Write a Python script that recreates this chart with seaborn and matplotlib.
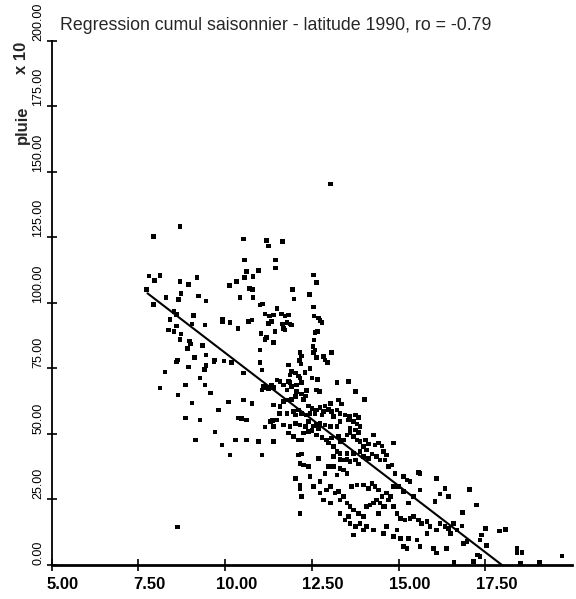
import pandas as pd
import seaborn as sns
import matplotlib
matplotlib.use("Agg")
import matplotlib.pyplot as plt
from matplotlib.transforms import ScaledTranslation

# (latitude, pluie x10), grouped by zone
nord_ouest = [
    (8.70, 129.1), (7.93, 125.3), (10.53, 124.4), (11.20, 123.8), (11.25, 121.8), (11.66, 123.4),
    (10.56, 116.4), (11.46, 116.4), (11.46, 113.4), (7.81, 110.3), (7.96, 108.5), (8.12, 110.6),
    (8.70, 108.1), (8.94, 107.1), (9.19, 109.7), (7.74, 105.2), (8.73, 103.7), (8.65, 101.4),
    (8.30, 102.0), (9.23, 102.7), (9.45, 100.8), (7.93, 99.5), (10.96, 112.3), (10.62, 111.9),
    (10.55, 109.8), (10.80, 110.0), (10.32, 108.1), (10.12, 106.6), (10.70, 105.6), (10.79, 105.2),
    (10.43, 102.0), (10.80, 102.2), (12.55, 110.7), (12.64, 107.7), (11.95, 105.2), (11.99, 101.5),
    (12.43, 103.2), (9.92, 93.8), (9.93, 92.9), (10.14, 92.5), (10.37, 90.3), (8.53, 96.7),
    (8.60, 95.7), (9.08, 95.2), (8.41, 93.8), (8.59, 91.2), (8.36, 89.7), (8.53, 89.1),
    (8.73, 88.2), (9.04, 92.0), (9.42, 91.6), (8.70, 86.1), (8.97, 85.5), (9.01, 84.4),
    (8.92, 82.7), (9.34, 83.7), (9.45, 80.2), (9.11, 79.3), (9.69, 78.2), (9.68, 77.4),
    (9.97, 77.9), (10.19, 77.2), (8.63, 78.2), (8.59, 77.4), (8.94, 75.5), (9.45, 76.1),
    (9.40, 74.7),
]

sud_ouest = [
    (8.27, 73.7), (8.85, 68.7), (9.28, 71.4), (8.64, 64.9), (9.05, 61.8), (9.57, 65.6),
    (9.80, 59.2), (9.28, 55.3), (8.85, 56.1), (10.09, 62.2), (10.37, 56.1), (10.29, 47.7),
    (9.91, 45.8), (10.14, 42.0), (9.71, 50.8), (9.42, 68.7), (8.12, 67.6), (9.14, 47.7),
]

centre_haut = [
    (11.01, 99.2), (11.08, 99.6), (11.49, 98.0), (11.15, 95.8), (11.28, 95.0), (11.39, 95.4),
    (11.63, 95.8), (11.73, 95.0), (11.82, 95.4), (11.34, 92.9), (11.25, 92.2), (11.66, 92.0),
    (11.78, 92.5), (11.87, 92.0), (11.92, 91.6), (11.68, 90.3), (11.73, 89.7), (11.44, 89.1),
    (10.67, 92.9), (10.77, 93.5), (11.03, 88.4), (11.15, 86.1), (11.20, 86.9), (11.39, 84.9),
    (11.01, 82.1), (12.55, 98.4), (12.56, 95.0), (12.69, 94.2), (12.74, 93.3), (12.79, 92.5),
    (12.59, 88.7), (12.66, 89.1), (12.56, 85.9), (12.53, 83.3), (12.59, 82.1), (12.55, 81.1),
    (12.64, 79.3), (12.83, 79.5), (12.88, 78.3), (12.95, 77.2), (13.07, 81.1), (12.16, 81.1),
    (12.21, 79.8), (12.14, 78.0), (12.19, 76.7), (11.01, 77.2), (11.06, 74.4), (10.53, 73.2),
    (11.82, 76.3), (11.92, 73.8), (11.87, 72.5), (12.02, 73.2), (12.11, 72.2), (12.16, 71.3),
    (12.30, 73.4), (12.45, 75.1), (12.50, 71.3), (12.66, 70.9), (11.82, 70.0), (11.87, 69.6),
    (11.49, 70.6), (11.58, 70.0), (11.68, 68.7), (11.92, 68.1), (12.06, 68.7), (12.21, 69.6),
    (11.10, 68.3), (11.18, 67.8), (11.25, 67.1), (11.34, 68.7), (11.39, 67.8), (11.06, 66.8),
    (11.78, 66.8), (12.06, 66.2), (12.35, 66.5), (12.64, 66.8), (12.72, 66.2), (13.22, 69.6),
    (13.56, 70.0), (13.75, 66.2), (14.01, 63.2),
]

centre = [
    (13.27, 63.0), (13.36, 61.5), (13.03, 61.7), (12.88, 60.7), (12.74, 60.2), (12.64, 59.2),
    (12.50, 59.8), (12.40, 60.7), (12.26, 63.2), (12.31, 64.5), (12.21, 65.3), (12.02, 64.3),
    (11.92, 63.2), (11.78, 63.0), (11.68, 62.4), (11.58, 60.4), (11.39, 61.1), (11.56, 57.9),
    (11.78, 57.9), (11.97, 58.5), (12.02, 57.2), (12.11, 59.2), (12.21, 57.9), (12.35, 57.3),
    (12.45, 57.9), (12.59, 57.9), (12.79, 57.3), (12.83, 58.5), (12.98, 59.4), (13.07, 58.5),
    (13.22, 59.2), (13.31, 57.9), (13.12, 56.6), (13.46, 57.3), (13.58, 56.6), (13.75, 57.3),
    (13.84, 56.4), (13.56, 55.4), (13.70, 54.7), (13.80, 53.8), (13.89, 52.8), (13.60, 52.2),
    (13.75, 51.5), (13.84, 50.5), (13.31, 54.7), (13.22, 52.8), (13.03, 52.8), (12.88, 53.4),
    (12.74, 54.1), (12.69, 52.2), (12.55, 53.1), (12.64, 53.8), (12.40, 54.7), (12.31, 52.8),
    (12.16, 53.4), (12.02, 54.1), (11.87, 52.8), (11.68, 53.4), (11.39, 52.8), (11.30, 54.7),
    (11.15, 52.6), (11.49, 55.4), (11.37, 55.1), (10.53, 63.0), (10.77, 61.7), (10.48, 56.0),
    (10.62, 55.4), (10.62, 47.7), (10.96, 47.1), (11.06, 42.0), (11.39, 47.1), (11.82, 50.3),
    (11.97, 49.0), (12.11, 47.7), (12.21, 47.7), (12.26, 50.3), (12.40, 50.9), (12.50, 51.3),
    (12.64, 49.6), (12.79, 48.7), (12.93, 47.7), (13.07, 48.4), (12.98, 46.5), (13.12, 45.2),
    (13.27, 49.0), (13.31, 47.1), (13.41, 47.7), (13.51, 49.6), (13.60, 50.3), (13.70, 49.0),
    (13.80, 47.7), (13.89, 47.1), (14.04, 47.7), (13.99, 45.2), (14.13, 46.2), (14.28, 49.6),
    (14.32, 45.8), (14.42, 46.5), (14.52, 45.4), (14.56, 43.3), (14.66, 42.0), (14.85, 46.5),
    (14.08, 43.9), (13.89, 43.3), (13.70, 42.6), (13.51, 42.6), (13.31, 42.6), (13.22, 43.3),
    (13.12, 41.4), (13.31, 40.3), (13.41, 40.1), (13.51, 40.3), (13.60, 39.4), (13.75, 40.1),
    (13.84, 38.6), (13.99, 41.4), (14.13, 40.7), (14.23, 42.4), (14.37, 41.4), (14.47, 40.1),
    (14.61, 40.1), (14.71, 37.5), (14.81, 38.2), (14.90, 35.0), (15.14, 33.7), (15.24, 32.5),
    (15.33, 31.8), (15.57, 35.3), (15.62, 35.0), (16.10, 33.1),
]

sud_est = [
    (16.34, 29.3), (16.44, 26.1), (16.20, 27.1), (16.05, 24.2), (15.62, 28.6), (15.43, 26.1),
    (15.29, 23.6), (15.14, 28.0), (15.00, 29.9), (14.85, 29.9), (14.76, 26.1), (14.66, 27.4),
    (14.52, 26.1), (14.42, 28.6), (14.32, 29.9), (14.23, 31.2), (14.13, 29.3), (13.99, 30.6),
    (13.80, 30.6), (13.65, 29.9), (13.51, 35.0), (13.41, 36.3), (13.31, 36.9), (13.22, 34.4),
    (13.12, 37.5), (12.98, 37.5), (12.88, 35.0), (12.74, 31.8), (12.69, 40.7), (12.40, 37.5),
    (12.26, 38.2), (12.16, 38.8), (12.11, 42.0), (12.21, 42.4), (12.02, 33.1), (12.16, 30.6),
    (12.16, 29.3), (12.21, 26.1), (12.16, 19.7), (12.45, 33.7), (12.55, 29.9), (12.74, 27.4),
    (12.83, 24.8), (13.03, 23.6), (13.17, 27.4), (13.27, 28.0), (13.31, 24.8), (13.41, 26.1),
    (13.51, 23.6), (13.60, 22.3), (13.70, 21.0), (13.84, 19.7), (13.99, 18.5), (14.08, 22.3),
    (14.18, 22.9), (14.28, 23.6), (14.37, 24.8), (14.47, 23.6), (14.61, 22.3), (14.71, 24.8),
    (14.85, 22.3), (14.95, 19.7), (15.05, 17.8), (15.19, 17.2), (15.33, 17.8), (15.43, 18.5),
    (15.57, 17.2), (15.67, 15.9), (15.82, 16.6), (15.91, 14.7), (16.10, 13.4), (16.20, 15.9),
    (16.34, 14.7), (16.44, 14.0), (16.58, 15.9), (16.68, 13.4), (16.49, 12.1), (15.82, 12.1),
    (15.53, 9.6), (15.29, 10.2), (15.05, 10.2), (14.85, 10.8), (14.56, 12.1), (14.28, 13.4),
    (14.08, 14.7), (13.89, 15.9), (13.75, 14.7), (13.60, 15.9), (13.46, 17.2), (13.31, 19.7),
    (13.56, 18.5), (13.70, 11.5), (13.99, 13.4), (14.66, 14.7), (14.95, 13.4), (15.14, 7.0),
    (15.24, 6.4), (15.62, 7.0), (16.01, 6.4), (16.10, 4.5), (16.39, 6.4), (14.42, 19.7),
    (14.56, 22.3), (13.03, 29.9), (12.93, 28.6),
]

extremite = [
    (16.84, 20.0), (17.05, 28.9), (17.24, 22.9), (16.83, 14.9), (16.87, 8.3), (16.97, 8.9),
    (17.35, 9.6), (17.40, 11.5), (17.50, 14.0), (17.53, 7.4), (17.28, 3.8), (17.35, 3.2),
    (17.16, 1.3), (16.60, 0.9), (17.91, 13.0), (18.08, 13.6), (18.41, 6.4), (18.41, 4.7),
    (18.56, 4.7), (19.71, 3.4), (19.07, 0.9), (18.51, 0.6),
]

isoles = [(13.03, 145.4), (8.62, 14.5)]

# regression line end points as drawn
droite_lat = [7.76, 17.98]
droite_pluie = [103.7, 0.0]

x_ticks = [5.0, 7.5, 10.0, 12.5, 15.0, 17.5]
x_labels = ["5.00", "7.50", "10.00", "12.50", "15.00", "17.50"]
y_ticks = [0, 25, 50, 75, 100, 125, 150, 175, 200]
y_labels = ["0.00", "25.00", "50.00", "75.00", "100.00", "125.00", "150.00", "175.00", "200.00"]

df = pd.DataFrame(nord_ouest + sud_ouest + centre_haut + centre + sud_est + extremite + isoles,
                  columns=["latitude", "pluie"])

sns.set_style("ticks")
plt.rcParams["font.family"] = ["Liberation Sans", "DejaVu Sans"]

fig = plt.figure(figsize=(5.76, 5.99), dpi=100)
ax = fig.add_axes([0.0898, 0.0568, 0.9032, 0.8748])

sns.scatterplot(data=df, x="latitude", y="pluie", marker="s", s=11, color="black",
                edgecolor="none", linewidth=0, ax=ax, legend=False)
sns.lineplot(x=droite_lat, y=droite_pluie, color="black", linewidth=1.5, ax=ax)

ax.set_xlim(5, 20)
ax.set_ylim(0, 200)
ax.set_xlabel("")
ax.set_ylabel("")

ax.set_xticks(x_ticks)
ax.set_xticklabels(x_labels, fontsize=12, fontweight="bold")
ax.set_yticks(y_ticks)
ax.set_yticklabels(y_labels, fontsize=9)
ax.tick_params(axis="x", direction="inout", length=8, width=1.2, pad=5, colors="black")
ax.tick_params(axis="y", direction="inout", length=7, width=1.2, pad=2, colors="black")

offset = ScaledTranslation(0.11, 0, fig.dpi_scale_trans)
for t in ax.get_xticklabels():
    t.set_transform(t.get_transform() + offset)
for t in ax.get_yticklabels():
    t.set_rotation(90)
    t.set_rotation_mode("anchor")
    t.set_ha("left")
    t.set_va("bottom")

sns.despine(ax=ax)
ax.spines["left"].set_linewidth(1.3)
ax.spines["bottom"].set_linewidth(2)
ax.spines["left"].set_color("black")
ax.spines["bottom"].set_color("black")

fig.text(60 / 576, 1 - 25 / 599, "Regression cumul saisonnier - latitude 1990, ro = -0.79",
         fontsize=12.8, ha="left", va="center")
fig.text(22 / 576, 1 - 144 / 599, "pluie", fontsize=12, fontweight="bold",
         rotation=90, ha="center", va="bottom")
fig.text(22 / 576, 1 - 74 / 599, "x 10", fontsize=12, fontweight="bold",
         rotation=90, ha="center", va="bottom")

fig.savefig("out.png", dpi=100)
